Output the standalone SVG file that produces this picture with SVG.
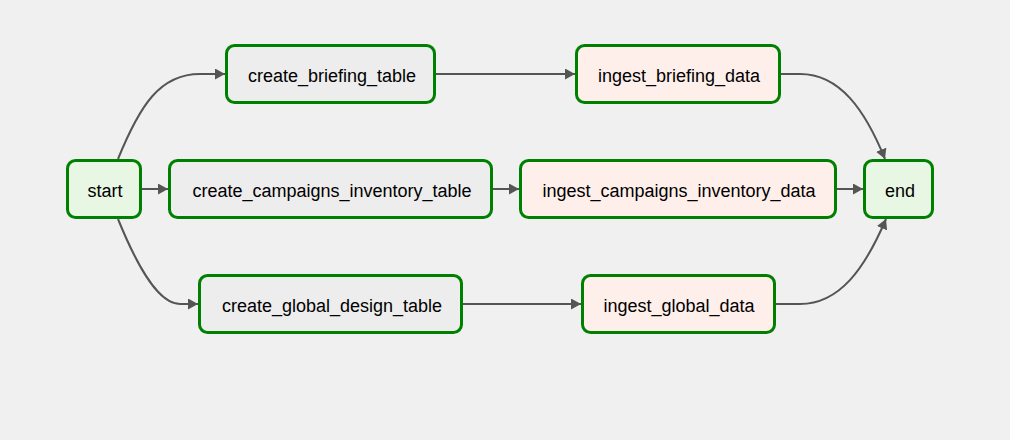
<svg xmlns="http://www.w3.org/2000/svg" width="1010" height="440" viewBox="0 0 1010 440">
<style>
.node rect{stroke:#008000;stroke-width:3}
.op rect{fill:#e8f7e4}
.tbl rect{fill:#ededed}
.ing rect{fill:#ffefeb}
.node text{font-family:"Liberation Sans",Arial,sans-serif;font-size:18px;fill:#000;text-anchor:middle;dominant-baseline:central}
.edges path{fill:none;stroke:#555;stroke-width:2;marker-end:url(#arr)}
</style>
<defs>
<marker id="arr" viewBox="0 0 10 10" refX="10" refY="5" markerWidth="10" markerHeight="11" markerUnits="userSpaceOnUse" orient="auto" preserveAspectRatio="none">
<path d="M0,0 L10,5 L0,10 z" fill="#555"/>
</marker>
</defs>
<rect width="1010" height="440" fill="#f0f0f0"/>
<g class="edges">
<path d="M118,159 C140,105 160,74 200,74 L225,74"/>
<path d="M141,189 L168,189"/>
<path d="M118,219 C140,273 160,304 180,304 L198,304"/>
<path d="M435,74 L575,74"/>
<path d="M492,189 L519,189"/>
<path d="M462,304 L581,304"/>
<path d="M780,74 L800,74 C840,74 865,110 885,159"/>
<path d="M837,189 L863,189"/>
<path d="M775,304 L800,304 C840,304 865,268 886,219"/>
</g>
<g id="start" class="node op"><rect x="67.5" y="160.5" width="73" height="57" rx="8"/><text x="105" y="191">start</text></g>
<g id="create_briefing_table" class="node tbl"><rect x="226.5" y="45.5" width="208" height="57" rx="8"/><text x="332" y="76">create_briefing_table</text></g>
<g id="create_campaigns_inventory_table" class="node tbl"><rect x="169.5" y="160.5" width="322" height="57" rx="8"/><text x="332" y="191">create_campaigns_inventory_table</text></g>
<g id="create_global_design_table" class="node tbl"><rect x="199.5" y="275.5" width="262" height="57" rx="8"/><text x="332" y="306">create_global_design_table</text></g>
<g id="ingest_briefing_data" class="node ing"><rect x="576.5" y="45.5" width="203" height="57" rx="8"/><text x="679" y="76">ingest_briefing_data</text></g>
<g id="ingest_campaigns_inventory_data" class="node ing"><rect x="520.5" y="160.5" width="315" height="57" rx="8"/><text x="679" y="191">ingest_campaigns_inventory_data</text></g>
<g id="ingest_global_data" class="node ing"><rect x="582.5" y="275.5" width="192" height="57" rx="8"/><text x="679" y="306">ingest_global_data</text></g>
<g id="end" class="node op"><rect x="864.5" y="160.5" width="68" height="57" rx="8"/><text x="900" y="191">end</text></g>
</svg>
